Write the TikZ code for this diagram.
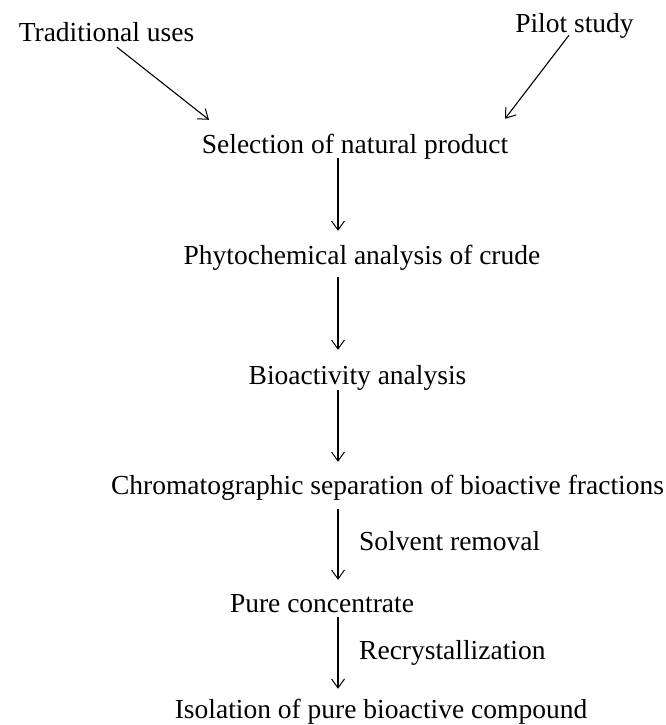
\documentclass[tikz,border=0pt]{standalone}
\usepackage{fontspec}
\setmainfont{Liberation Serif}
\usetikzlibrary{arrows.meta}
\begin{document}
\begin{tikzpicture}[x=1pt, y=-1pt,
  stage/.style={inner sep=0pt, text height=19pt, text depth=6pt, anchor=base,
    font=\fontsize{27.5}{33}\selectfont},
  note/.style={stage, anchor=base west},
  flow/.style={line width=1.1pt, -{Straight Barb[length=9pt, width=13pt, line width=1pt]}}]
  \useasboundingbox (0,0) rectangle (665,725);
  \fill[white] (0,0) rectangle (665,725);

  % sources
  \node[stage] (trad)  at (106.5,42) {Traditional uses};
  \node[stage] (pilot) at (574.5,33) {Pilot study};

  % main sequence
  \node[stage] (sel)   at (355,153)   {Selection of natural product};
  \node[stage] (phy)   at (362,264)   {Phytochemical analysis of crude};
  \node[stage] (bio)   at (357.5,384) {Bioactivity analysis};
  \node[stage] (chrom) at (387.5,494) {Chromatographic separation of bioactive fractions};
  \node[stage] (pure)  at (322,612)   {Pure concentrate};
  \node[stage] (iso)   at (381,718)   {Isolation of pure bioactive compound};

  % step labels
  \node[note] (solv)  at (359,550) {Solvent removal};
  \node[note] (recr)  at (359,659) {Recrystallization};

  % spine of the flow
  \coordinate (ax) at (338,0);

  \draw[flow] ([xshift=10.5pt,yshift=1pt]trad.south) -- ([xshift=-146pt,yshift=14pt]sel.north);
  \draw[flow] ([xshift=-5.5pt,yshift=4pt]pilot.south) -- ([xshift=150pt,yshift=15pt]sel.north);

  \draw[flow, shorten <=-1pt, shorten >=14pt] (sel.south -| ax)   -- (phy.north -| ax);
  \draw[flow, shorten <=7pt,  shorten >=15pt] (phy.south -| ax)   -- (bio.north -| ax);
  \draw[flow, shorten <=0pt,  shorten >=13pt] (bio.south -| ax)   -- (chrom.north -| ax);
  \draw[flow, shorten <=9pt,  shorten >=13pt] (chrom.south -| ax) -- (pure.north -| ax);
  \draw[flow, shorten <=-1pt, shorten >=10pt] (pure.south -| ax)  -- (iso.north -| ax);
\end{tikzpicture}
\end{document}
